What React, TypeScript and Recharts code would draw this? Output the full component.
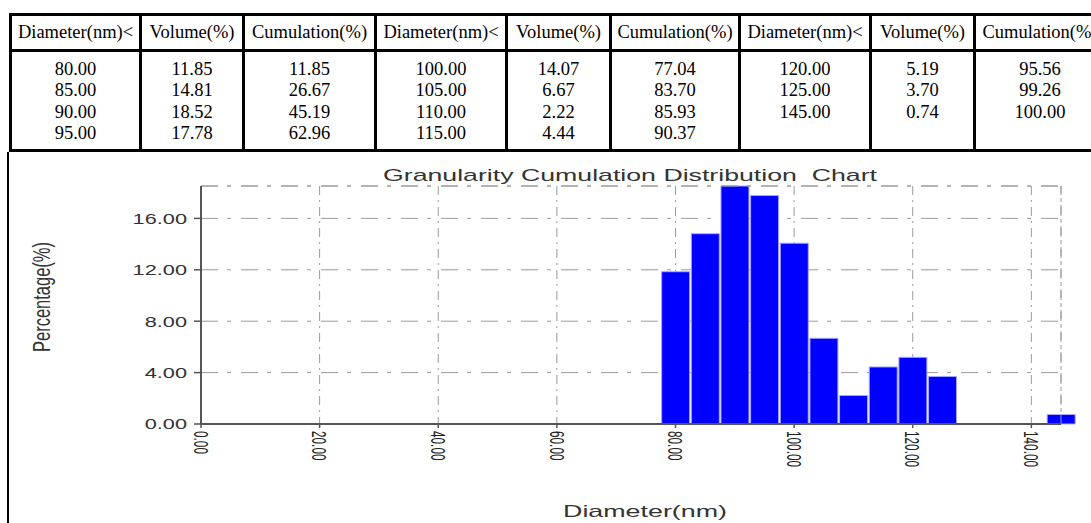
import React from 'react';
import { BarChart, Bar, XAxis, YAxis, CartesianGrid, ReferenceLine } from 'recharts';

const diameters = [80, 85, 90, 95, 100, 105, 110, 115, 120, 125, 145];
const volumes = [11.85, 14.81, 18.52, 17.78, 14.07, 6.67, 2.22, 4.44, 5.19, 3.7, 0.74];
const cumulations = [11.85, 26.67, 45.19, 62.96, 77.04, 83.7, 85.93, 90.37, 95.56, 99.26, 100.0];
const tableHeaders = ['Diameter(nm)<', 'Volume(%)', 'Cumulation(%)'];
const tableGroups = [[0, 1, 2, 3], [4, 5, 6, 7], [8, 9, 10]];
const xTicks = [0, 20, 40, 60, 80, 100, 120, 140];
const yTicks = [0, 4, 8, 12, 16];
const chartTitle = 'Granularity Cumulation Distribution  Chart';
const xLabel = 'Diameter(nm)';
const yLabel = 'Percentage(%)';

const data = diameters.map((d, i) => ({ d, v: volumes[i] }));
const xMax = Math.max(...diameters);
const yMax = Math.max(...volumes);

const SANS = "'Liberation Sans', Arial, Helvetica, sans-serif";
const SERIF = "'Liberation Serif', 'Times New Roman', serif";

const vLines = [9, 139, 242, 374, 505, 609, 738, 869, 973, 1104];
const hLines = [13, 49, 149];

const GRID = '#9a9a9a';
const AXIS = '#555555';
const TXT = '#333333';

const XTick = (props: any) => {
  const { x, y, payload } = props;
  return (
    <g transform={`translate(${x},${y + 1})`}>
      <text
        x={0}
        y={0}
        dy="0.36em"
        textAnchor="start"
        transform="scale(1.7,1) rotate(90)"
        fontSize={11.8}
        fontFamily={SANS}
        fill="#222"
      >
        {Number(payload.value).toFixed(2)}
      </text>
    </g>
  );
};

const YTick = (props: any) => {
  const { x, y, payload } = props;
  return (
    <g transform={`translate(${x},${y})`}>
      <text
        x={0}
        y={0}
        dy="0.36em"
        textAnchor="end"
        transform="scale(1.45,1)"
        fontSize={15}
        fontFamily={SANS}
        fill={TXT}
      >
        {Number(payload.value).toFixed(2)}
      </text>
    </g>
  );
};

export default function App() {
  return (
    <div
      style={{
        position: 'absolute',
        left: 0,
        top: 0,
        width: 1091,
        height: 523,
        overflow: 'hidden',
        background: '#fff',
        fontFamily: SERIF,
        fontSize: 18.5,
        color: '#000',
      }}
    >
      <div style={{ position: 'absolute', left: 0, top: 0 }}>
        <BarChart
          width={1091}
          height={523}
          data={data}
          margin={{ top: 186, right: 30, bottom: 69, left: 141 }}
        >
          <CartesianGrid horizontal vertical={false} stroke={GRID} strokeDasharray="17 9 4 10" />
          <CartesianGrid horizontal={false} vertical stroke={GRID} strokeDasharray="9 5 2 5" />
          <ReferenceLine y={yMax} stroke={GRID} strokeDasharray="17 9 4 10" />
          <ReferenceLine x={xMax} stroke={GRID} strokeDasharray="9 5 2 5" />
          <XAxis
            type="number"
            dataKey="d"
            domain={[0, 'dataMax']}
            ticks={xTicks}
            interval={0}
            tickSize={4}
            tickMargin={2}
            height={30}
            axisLine={{ stroke: AXIS, strokeWidth: 2 }}
            tickLine={{ stroke: AXIS, strokeWidth: 1.5 }}
            tick={(p: any) => <XTick {...p} />}
          />
          <YAxis
            type="number"
            domain={[0, 'dataMax']}
            ticks={yTicks}
            interval={0}
            width={60}
            tickSize={7}
            tickMargin={7}
            axisLine={{ stroke: AXIS, strokeWidth: 2 }}
            tickLine={{ stroke: AXIS, strokeWidth: 1.5 }}
            tick={(p: any) => <YTick {...p} />}
          />
          <Bar
            dataKey="v"
            fill="#0000ff"
            stroke="#a8a8ff"
            strokeWidth={1}
            barSize={28}
            isAnimationActive={false}
          />
        </BarChart>
      </div>

      <svg
        width={1091}
        height={523}
        style={{ position: 'absolute', left: 0, top: 0, pointerEvents: 'none' }}
      >
        <text
          x={630}
          y={181}
          textAnchor="middle"
          fontSize={17}
          fontFamily={SANS}
          fill={TXT}
          textLength={494}
          lengthAdjust="spacingAndGlyphs"
          style={{ whiteSpace: 'pre' }}
        >
          {chartTitle}
        </text>
        <text
          x={645}
          y={517}
          textAnchor="middle"
          fontSize={16.5}
          fontFamily={SANS}
          fill={TXT}
          textLength={164}
          lengthAdjust="spacingAndGlyphs"
        >
          {xLabel}
        </text>
        <g transform="translate(41,297)">
          <text
            x={0}
            y={0}
            dy="0.36em"
            textAnchor="middle"
            transform="scale(1.45,1) rotate(-90)"
            fontSize={16.5}
            fontFamily={SANS}
            fill={TXT}
          >
            {yLabel}
          </text>
        </g>
      </svg>

      {/* table borders */}
      {vLines.map((x, i) => (
        <div
          key={'v' + i}
          style={{ position: 'absolute', left: x, top: 13, width: 3, height: 139, background: '#000' }}
        />
      ))}
      {hLines.map((y, i) => (
        <div
          key={'h' + i}
          style={{ position: 'absolute', left: 9, top: y, width: 1098, height: 3, background: '#000' }}
        />
      ))}
      <div style={{ position: 'absolute', left: 7, top: 152, width: 2, height: 371, background: '#000' }} />

      {Array.from({ length: 9 }).map((_, c) => {
        const left = vLines[c] + 3;
        const width = vLines[c + 1] - vLines[c] - 3;
        const g = Math.floor(c / 3);
        const k = c % 3;
        const src = k === 0 ? diameters : k === 1 ? volumes : cumulations;
        const vals = tableGroups[g].map((i) => src[i].toFixed(2));
        return (
          <React.Fragment key={'c' + c}>
            <div
              style={{
                position: 'absolute',
                left,
                width,
                top: 16,
                height: 33,
                display: 'flex',
                alignItems: 'center',
                justifyContent: 'center',
                whiteSpace: 'nowrap',
              }}
            >
              {tableHeaders[k]}
            </div>
            <div
              style={{
                position: 'absolute',
                left,
                width,
                top: 52,
                height: 97,
                paddingTop: 6.5,
                boxSizing: 'border-box',
                textAlign: 'center',
                lineHeight: '21.6px',
                whiteSpace: 'nowrap',
              }}
            >
              {vals.map((v, j) => (
                <div key={j}>{v}</div>
              ))}
            </div>
          </React.Fragment>
        );
      })}
    </div>
  );
}
